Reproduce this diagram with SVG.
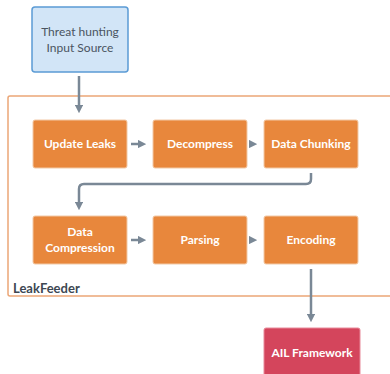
<svg xmlns="http://www.w3.org/2000/svg" width="390" height="374" viewBox="0 0 390 374">
<defs>
<style>
.box{fill:#e8873c;stroke:#f2c9a6;stroke-width:1}
.t{font-family:Lato,"Open Sans",sans-serif;font-size:12px;fill:#ffffff;text-anchor:middle;font-weight:bold}
.c{fill:none;stroke:#7a8896;stroke-width:2.5}
</style>
<marker id="ah" viewBox="0 0 10 10" refX="5" refY="5" markerWidth="3.4" markerHeight="3.4" orient="auto"><path d="M0,0 L10,5 L0,10 z" fill="#7a8896"/></marker>
</defs>
<rect width="390" height="374" fill="#ffffff"/>
<g id="leakfeeder">
<rect x="8" y="96" width="390" height="200" rx="2" fill="none" stroke="#eba677" stroke-width="1.5"/>
<text x="13" y="293" font-family="Lato,'Open Sans',sans-serif" font-size="13" font-weight="bold" fill="#3d4752">LeakFeeder</text>
</g>
<g id="connectors">
<path class="c" d="M79,76 V109" marker-end="url(#ah)"/>
<path class="c" d="M131,144 H142" marker-end="url(#ah)"/>
<path class="c" d="M251,144 H253" marker-end="url(#ah)"/>
<path class="c" d="M311,173 V179 Q311,184 306,184 H84 Q79,184 79,189 V206" marker-end="url(#ah)"/>
<path class="c" d="M131,240 H142" marker-end="url(#ah)"/>
<path class="c" d="M251,240 H253" marker-end="url(#ah)"/>
<path class="c" d="M311,269 V318" marker-end="url(#ah)"/>
</g>
<g id="input">
<rect x="32" y="7" width="96" height="65" rx="3" fill="#d2e5f7" stroke="#5b9bd5" stroke-width="1.5"/>
<text class="t" x="80" y="36" style="fill:#4a5461;font-weight:normal">Threat hunting</text>
<text class="t" x="80" y="52" style="fill:#4a5461;font-weight:normal">Input Source</text>
</g>
<g id="update"><rect class="box" x="33" y="120" width="94" height="48" rx="2"/><text class="t" x="80" y="148">Update Leaks</text></g>
<g id="decompress"><rect class="box" x="153" y="120" width="94" height="48" rx="2"/><text class="t" x="200" y="148">Decompress</text></g>
<g id="chunking"><rect class="box" x="264" y="120" width="94" height="48" rx="2"/><text class="t" x="311" y="148">Data Chunking</text></g>
<g id="compression"><rect class="box" x="33" y="216" width="94" height="48" rx="2"/><text class="t" x="80" y="236">Data</text><text class="t" x="80" y="252">Compression</text></g>
<g id="parsing"><rect class="box" x="153" y="216" width="94" height="48" rx="2"/><text class="t" x="200" y="244">Parsing</text></g>
<g id="encoding"><rect class="box" x="264" y="216" width="94" height="48" rx="2"/><text class="t" x="311" y="244">Encoding</text></g>
<g id="ail"><rect x="264" y="328" width="96" height="60" rx="2" fill="#d4455c" stroke="#e88a9a" stroke-width="1"/><text class="t" x="312" y="357">AIL Framework</text></g>
</svg>
